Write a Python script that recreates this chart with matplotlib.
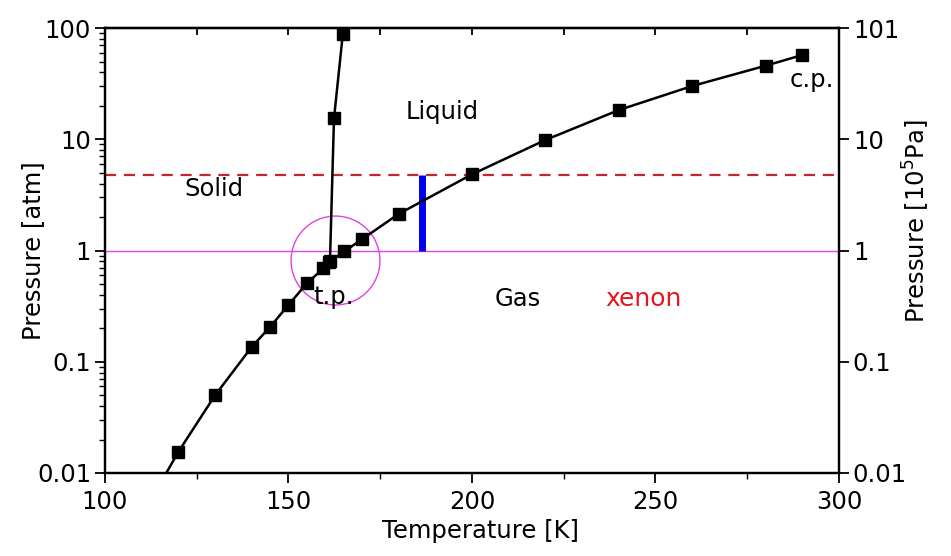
import matplotlib.pyplot as plt
from matplotlib.ticker import FixedLocator, NullLocator, LogLocator, NullFormatter

plt.rcParams['font.family'] = ['DejaVu Sans']

# vapour pressure curve (K, atm)
vap_T = [120, 130, 140, 145, 150, 155, 159.5, 161.1, 165.2, 170, 180, 200, 220, 240, 260, 280, 290]
vap_P = [0.0155, 0.050, 0.136, 0.206, 0.324, 0.507, 0.69, 0.79, 0.98, 1.26, 2.13, 4.84, 9.85, 18.3, 30.1, 45.8, 57.2]
# where the curve leaves the bottom of the plot
curve_start_T = 116.7
curve_start_P = 0.01

# melting curve
melt_T = [161.3, 162.4, 164.8]
melt_P = [0.80, 15.4, 88.0]

# guide lines / marks
dash_P = 4.75
atm_P = 1.0
bar_T = 186.3
bar_P = [1.0, 4.75]
tp_T, tp_P = 162.6, 0.82

yticks = [0.01, 0.1, 1, 10, 100]
ylabels_left = ["0.01", "0.1", "1", "10", "100"]
ylabels_right = ["0.01", "0.1", "1", "10", "101"]
xticks = [100, 150, 200, 250, 300]

fig = plt.figure(figsize=(9.51, 5.56), dpi=100)
ax = fig.add_axes([0.1104, 0.1493, 0.7718, 0.8003])

ax.set_yscale('log')
ax.set_xlim(100, 300)
ax.set_ylim(0.01, 100)

ax.axhline(dash_P, color='#c0282d', lw=1.6, ls=(0, (5, 3.5)), zorder=1)
ax.axhline(atm_P, color='#dd44dd', lw=1.0, zorder=1)
ax.plot([bar_T, bar_T], bar_P, color='#0000ee', lw=5, solid_capstyle='butt', zorder=2)
ax.plot([tp_T], [tp_P], marker='o', ms=64, mfc='none', mec='#dd44dd', mew=1.0, zorder=2)

ax.plot([curve_start_T] + vap_T, [curve_start_P] + vap_P, color='black', lw=1.8, zorder=3)
ax.plot(vap_T, vap_P, ls='none', marker='s', ms=8.5, color='black', zorder=4)
ax.plot(melt_T, melt_P, color='black', lw=1.8, marker='s', ms=8.5, zorder=4, clip_on=False)

fs = 17.5
ax.text(192, 17.5, "Liquid", fontsize=fs, ha='center', va='center')
ax.text(129.7, 3.6, "Solid", fontsize=fs, ha='center', va='center')
ax.text(212.6, 0.37, "Gas", fontsize=fs, ha='center', va='center')
ax.text(162.2, 0.38, "t.p.", fontsize=fs, ha='center', va='center')
ax.text(292.5, 34, "c.p.", fontsize=fs, ha='center', va='center')
ax.text(246.8, 0.37, "xenon", fontsize=18, ha='center', va='center', color='#e8141e')

ax.set_xticks(xticks)
ax.set_xticklabels([str(t) for t in xticks])
ax.xaxis.set_minor_locator(FixedLocator([125, 175, 225, 275]))
ax.set_yticks(yticks)
ax.set_yticklabels(ylabels_left)
ax.yaxis.set_minor_locator(LogLocator(base=10, subs=range(2, 10)))
ax.yaxis.set_minor_formatter(NullFormatter())
ax.tick_params(axis='both', which='major', direction='out', length=7, width=1.3,
               labelsize=fs, pad=3)
ax.tick_params(axis='both', which='minor', direction='out', length=4, width=1.0)
ax.tick_params(axis='x', which='major', pad=5)

top = ax.secondary_xaxis('top')
top.set_xticks(list(range(100, 301, 25)))
top.tick_params(direction='in', length=5, width=1.3, labeltop=False)

ax2 = ax.twinx()
ax2.set_yscale('log')
ax2.set_ylim(0.01, 100)
ax2.set_yticks(yticks)
ax2.set_yticklabels(ylabels_right)
ax2.yaxis.set_minor_locator(NullLocator())
ax2.tick_params(axis='y', direction='out', length=7, width=1.3, labelsize=fs, pad=3)

for a in (ax, ax2):
    for s in a.spines.values():
        s.set_linewidth(1.6)
for s in top.spines.values():
    s.set_linewidth(1.6)

ax.set_xlabel("Temperature [K]", fontsize=fs)
ax.xaxis.set_label_coords(0.512, -0.103)
ax.set_ylabel("Pressure [atm]", fontsize=fs)
ax.yaxis.set_label_coords(-0.082, 0.5)
ax2.set_ylabel("Pressure [10$^5$Pa]", fontsize=fs)
ax2.yaxis.set_label_coords(1.084, 0.565)

fig.savefig("out.png", dpi=100)
